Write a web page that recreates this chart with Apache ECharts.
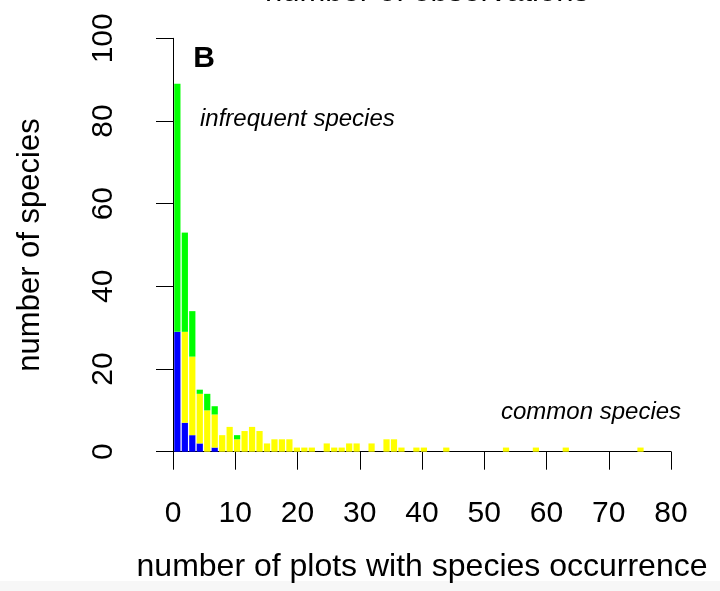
<!DOCTYPE html>
<html><head><meta charset="utf-8">
<script src="https://cdn.jsdelivr.net/npm/echarts@6/dist/echarts.min.js"></script>
<style>html,body{margin:0;padding:0;background:#fff}#c{width:720px;height:591px}</style>
</head><body><div id="c"></div>
<script>
// number of plots with species occurrence (one bar per value, R barplot layout)
const occurrences = [1,2,3,4,5,6,7,8,9,10,11,12,13,14,15,16,17,18,19,20,21,22,23,24,25,26,27,28,29,30,31,32,33,34,35,36,37,38,39,40,41,42,43,44,45,46,47,48,49,50,51,52,53,54,55,56,57,58,59,60,61,62,63];
const blueCounts   = [29,7,4,2,0,1,0,0,0,0,0,0,0,0,0,0,0,0,0,0,0,0,0,0,0,0,0,0,0,0,0,0,0,0,0,0,0,0,0,0,0,0,0,0,0,0,0,0,0,0,0,0,0,0,0,0,0,0,0,0,0,0,0];
const yellowCounts = [0,22,19,12,10,8,4,6,3,5,6,5,2,3,3,3,1,1,1,0,2,1,1,2,2,0,2,0,3,3,1,0,1,1,0,0,1,0,0,0,0,0,0,0,1,0,0,0,1,0,0,0,1,0,0,0,0,0,0,0,0,0,1];
const greenCounts  = [60,24,11,1,4,2,0,0,1,0,0,0,0,0,0,0,0,0,0,0,0,0,0,0,0,0,0,0,0,0,0,0,0,0,0,0,0,0,0,0,0,0,0,0,0,0,0,0,0,0,0,0,0,0,0,0,0,0,0,0,0,0,0];
const xTicks = [0,10,20,30,40,50,60,70,80];
const yTicks = [0,20,40,60,80,100];

const FONT = '"Liberation Sans", Arial, sans-serif';
const barUnit = 1, barSpace = 0.2;           // barplot width / space
const barPos = occurrences.map((k, i) => (i + 1) * (barUnit + barSpace) - barUnit / 2);

// stacked segments: [xCenter, lower, upper]
function stackSegments(lowerArrays, vals) {
  return vals.map((v, i) => {
    const base = lowerArrays.reduce((s, a) => s + a[i], 0);
    return [barPos[i], base, base + v];
  });
}

function renderBar(params, api) {
  const x = api.value(0), lo = api.value(1), hi = api.value(2);
  if (hi <= lo) return null;
  const p0 = api.coord([x - barUnit / 2, lo]);
  const p1 = api.coord([x + barUnit / 2, hi]);
  return {
    type: 'rect',
    shape: { x: p0[0], y: p1[1], width: p1[0] - p0[0], height: p0[1] - p1[1] },
    style: { fill: api.visual('color') }
  };
}

function mk(name, data, color) {
  return {
    type: 'custom', name, renderItem: renderBar,
    itemStyle: { color },
    encode: { x: 0, y: [1, 2] },
    data, animation: false
  };
}

const chart = echarts.init(document.getElementById('c'), null, { renderer: 'canvas' });
chart.setOption({
  backgroundColor: '#ffffff',
  animation: false,
  grid: { left: 173, right: 49, top: 38.3, bottom: 139.3 },
  xAxis: {
    type: 'value', min: xTicks[0], max: xTicks[xTicks.length - 1], interval: xTicks[1] - xTicks[0],
    name: 'number of plots with species occurrence',
    nameLocation: 'middle', nameGap: 99,
    nameTextStyle: { fontFamily: FONT, fontSize: 32, color: '#000' },
    axisLine: { show: true, onZero: false, lineStyle: { color: '#000', width: 1 } },
    axisTick: { show: true, length: 18, lineStyle: { color: '#000', width: 1 } },
    axisLabel: { fontFamily: FONT, fontSize: 30, color: '#000', margin: 47 },
    splitLine: { show: false }
  },
  yAxis: {
    type: 'value', min: yTicks[0], max: yTicks[yTicks.length - 1], interval: yTicks[1] - yTicks[0],
    offset: 14,
    name: 'number of species',
    nameLocation: 'middle', nameGap: 113, nameRotate: 90,
    nameTextStyle: { fontFamily: FONT, fontSize: 31, color: '#000' },
    axisLine: { show: true, lineStyle: { color: '#000', width: 1 } },
    axisTick: { show: true, length: 17, lineStyle: { color: '#000', width: 1 } },
    axisLabel: { fontFamily: FONT, fontSize: 30, color: '#000', rotate: 90, margin: 40 },
    splitLine: { show: false }
  },
  series: [
    mk('blue', stackSegments([], blueCounts), '#0000FF'),
    mk('yellow', stackSegments([blueCounts], yellowCounts), '#FFFF00'),
    mk('green', stackSegments([blueCounts, yellowCounts], greenCounts), '#00FF00')
  ],
  graphic: [
    { type: 'rect', left: 0, top: 581, shape: { width: 720, height: 10 }, style: { fill: '#f7f7f7' }, silent: true },
    { type: 'text', x: 427, y: 8, style: { text: 'number of observations', font: '31px ' + FONT, fill: '#000', align: 'center', verticalAlign: 'bottom' } },
    { type: 'text', x: 204, y: 59, style: { text: 'B', font: 'bold 30px ' + FONT, fill: '#000', align: 'center', verticalAlign: 'middle' } },
    { type: 'text', x: 200, y: 119, style: { text: 'infrequent species', font: 'italic 24px ' + FONT, fill: '#000', align: 'left', verticalAlign: 'middle' } },
    { type: 'text', x: 501, y: 412, style: { text: 'common species', font: 'italic 24px ' + FONT, fill: '#000', align: 'left', verticalAlign: 'middle' } }
  ]
});
</script>
</body></html>
